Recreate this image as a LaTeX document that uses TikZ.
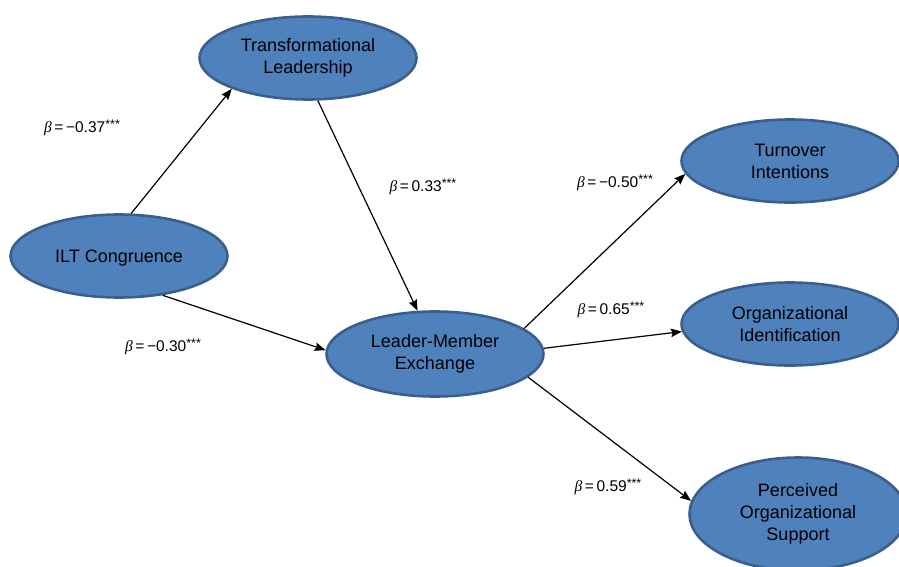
\documentclass[tikz,border=0pt]{standalone}
\usepackage{fontspec}
\setmainfont{Liberation Sans}
\newfontfamily\betafont{Liberation Serif}
\usetikzlibrary{shapes.geometric,arrows.meta}
\definecolor{ellfill}{HTML}{4F81BD}
\definecolor{elldraw}{HTML}{3A5F8C}
\newcommand{\betalab}[1]{{\betafont\itshape β}\,=\,#1\raisebox{0.5ex}{\fontsize{12.5}{12.5}\selectfont ***}}
\tikzset{
  construct/.style={ellipse, draw=elldraw, fill=ellfill, line width=2.6pt,
    minimum width=217pt, minimum height=83pt, inner sep=0pt, align=center,
    font=\fontsize{18}{22}\selectfont, text=black,
    execute at begin node={\rule{0pt}{17pt}}},
  path/.style={line width=1.2pt, -{Stealth[length=11pt,width=8.5pt,inset=1.5pt]}},
  coef/.style={font=\fontsize{15.5}{18}\selectfont, inner sep=0pt}
}
\begin{document}
\begin{tikzpicture}[x=1pt,y=-1pt]
\useasboundingbox (0,0) rectangle (899,567);
\clip (0,0) rectangle (899,567);
\node[construct] (ilt) at (119,256) {ILT Congruence};
\node[construct] (tl) at (308,58) {Transformational\\Leadership};
\node[construct, minimum height=85pt] (lmx) at (435,354) {Leader-Member\\Exchange};
\node[construct] (ti) at (790,161) {Turnover\\Intentions};
\node[construct] (oi) at (790,324) {Organizational\\Identification};
\node[construct, minimum height=113pt] (pos) at (798,514) {Perceived\\Organizational\\Support};

\draw[path] (ilt.74) -- (tl.202);
\draw[path] (tl.283) -- (lmx.112);
\draw[path] (ilt.318) -- (lmx.178);
\draw[path] (lmx.16) -- (ti.187);
\draw[path] (lmx.3) -- (oi.184);
\draw[path] (lmx.346) -- (pos.173);

\node[coef] (c1) at (82,128) {\betalab{−0.37}};
\node[coef] (c2) at (423,187) {\betalab{0.33}};
\node[coef] (c3) at (163,347) {\betalab{−0.30}};
\node[coef] (c4) at (615,183) {\betalab{−0.50}};
\node[coef] (c5) at (611,310) {\betalab{0.65}};
\node[coef] (c6) at (608,487) {\betalab{0.59}};
\end{tikzpicture}
\end{document}
